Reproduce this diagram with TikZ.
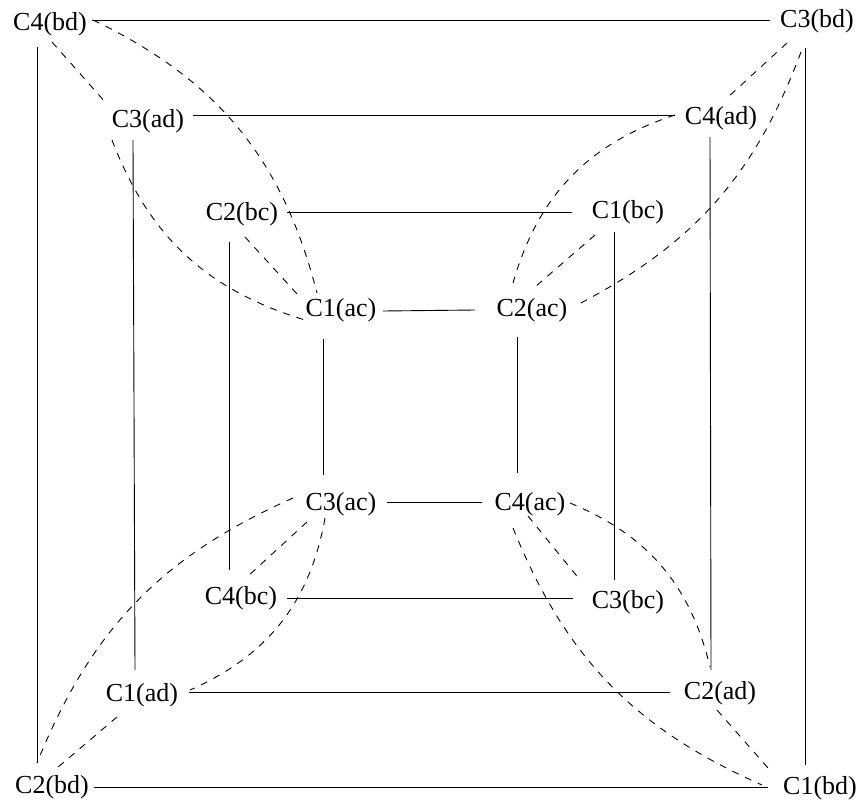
\documentclass[tikz,border=0pt]{standalone}
\usepackage{fontspec}
\setmainfont{Liberation Serif}
\usetikzlibrary{calc}
\begin{document}
\begin{tikzpicture}[x=1pt,y=-1pt,
  lbl/.style={inner sep=0pt, text height=17.5pt, text depth=4.6pt, font=\fontsize{26}{30}\selectfont},
  solidln/.style={line width=0.9pt},
  dashln/.style={line width=0.9pt, dash pattern=on 7pt off 7pt}]
\useasboundingbox (0,0) rectangle (865,806);
% nodes
\node[lbl] (C4bd) at (50,24) {C4(bd)};
\node[lbl] (C3bd) at (817,21) {C3(bd)};
\node[lbl] (C3ad) at (148,121) {C3(ad)};
\node[lbl] (C4ad) at (721,118) {C4(ad)};
\node[lbl] (C2bc) at (242,214) {C2(bc)};
\node[lbl] (C1bc) at (628,212) {C1(bc)};
\node[lbl] (C1ac) at (341,310) {C1(ac)};
\node[lbl] (C2ac) at (532,310) {C2(ac)};
\node[lbl] (C3ac) at (341,504) {C3(ac)};
\node[lbl] (C4ac) at (530,504) {C4(ac)};
\node[lbl] (C4bc) at (241,598) {C4(bc)};
\node[lbl] (C3bc) at (628,602) {C3(bc)};
\node[lbl] (C1ad) at (142,695) {C1(ad)};
\node[lbl] (C2ad) at (720,693) {C2(ad)};
\node[lbl] (C2bd) at (52,787) {C2(bd)};
\node[lbl] (C1bd) at (820,788) {C1(bd)};
% horizontal solid lines
\draw[solidln] ($(C4bd)+(42,-4)$) -- ($(C3bd)+(-47,-1)$);
\draw[solidln] ($(C3ad)+(45,-6)$) -- ($(C4ad)+(-46,-3)$);
\draw[solidln] ($(C2bc)+(45,-2)$) -- ($(C1bc)+(-56,0)$);
\draw[solidln] ($(C1ac)+(42,1)$) -- ($(C2ac)+(-57,0)$);
\draw[solidln] ($(C3ac)+(46,-2)$) -- ($(C4ac)+(-48,-2)$);
\draw[solidln] ($(C4bc)+(46,0)$) -- ($(C3bc)+(-55,-4)$);
\draw[solidln] ($(C1ad)+(47,-3)$) -- ($(C2ad)+(-50,-1)$);
\draw[solidln] ($(C2bd)+(42,0)$) -- ($(C1bd)+(-52,-1)$);
% vertical solid lines
\draw[solidln] ($(C4bd)+(-13,23)$) -- ($(C2bd)+(-15,-24)$);
\draw[solidln] ($(C3bd)+(-12,27)$) -- ($(C1bd)+(-15,-23)$);
\draw[solidln] ($(C3ad)+(-15,19)$) -- ($(C1ad)+(-7,-25)$);
\draw[solidln] ($(C4ad)+(-11,19)$) -- ($(C2ad)+(-9,-23)$);
\draw[solidln] ($(C2bc)+(-13,28)$) -- ($(C4bc)+(-12,-28)$);
\draw[solidln] ($(C1bc)+(-14,20)$) -- ($(C3bc)+(-14,-22)$);
\draw[solidln] ($(C1ac)+(-18,29)$) -- ($(C3ac)+(-18,-29)$);
\draw[solidln] ($(C2ac)+(-15,27)$) -- ($(C4ac)+(-13,-31)$);
% straight dashed lines
\draw[dashln] ($(C4bd)+(2,18)$) -- ($(C3ad)+(-42,-18)$);
\draw[dashln] ($(C2bc)+(3,23)$) -- ($(C1ac)+(-43,-15)$);
\draw[dashln] ($(C3bd)+(-30,22)$) -- ($(C4ad)+(6,-20)$);
\draw[dashln] ($(C1bc)+(-33,23)$) -- ($(C2ac)+(3,-23)$);
\draw[dashln] ($(C3ac)+(-34,18)$) -- ($(C4bc)+(6,-21)$);
\draw[dashln] ($(C1ad)+(-25,22)$) -- ($(C2bd)+(5,-19)$);
\draw[dashln] ($(C4ac)+(-2,12)$) -- ($(C3bc)+(-48,-22)$);
\draw[dashln] ($(C2ad)+(-3,17)$) -- ($(C1bd)+(-52,-20)$);
% curved dashed lines
\draw[dashln] ($(C4bd)+(43,-4)$) to[bend left=25] ($(C1ac)+(-24,-17)$);
\draw[dashln] ($(C3ad)+(-36,19)$) to[bend right=26] ($(C1ac)+(-36,10)$);
\draw[dashln] ($(C4ad)+(-46,-3)$) to[bend right=28] ($(C2ac)+(-19,-27)$);
\draw[dashln] ($(C3bd)+(-16,31)$) to[bend left=21] ($(C2ac)+(45,-5)$);
\draw[dashln] ($(C3ac)+(-48,-6)$) to[bend right=22] ($(C2bd)+(-15,-24)$);
\draw[dashln] ($(C3ac)+(-16,14)$) to[bend left=28] ($(C1ad)+(48,-5)$);
\draw[dashln] ($(C4ac)+(40,-1)$) to[bend left=27] ($(C2ad)+(-10,-26)$);
\draw[dashln] ($(C4ac)+(-17,24)$) to[bend right=22] ($(C1bd)+(-58,-3)$);
\end{tikzpicture}
\end{document}
